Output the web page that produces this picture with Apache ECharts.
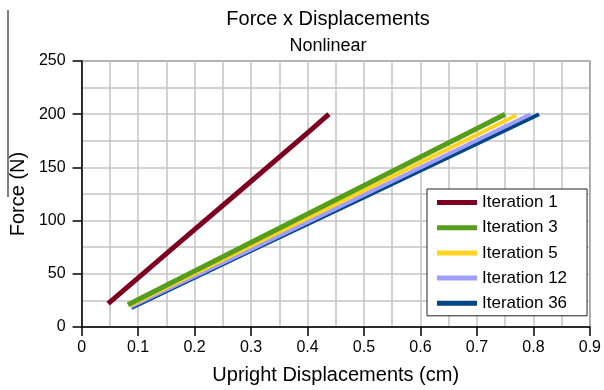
<!DOCTYPE html>
<html>
<head>
<meta charset="utf-8">
<script src="https://cdn.jsdelivr.net/npm/echarts@6/dist/echarts.min.js"></script>
<style>
html,body{margin:0;padding:0;background:#fff;}
#chart{width:604px;height:390px;}
</style>
</head>
<body>
<div id="chart"></div>
<script>
var titleText = 'Force x Displacements';
var subtitleText = 'Nonlinear';
var xAxisName = 'Upright Displacements (cm)';
var yAxisName = 'Force (N)';
var seriesNames = ['Iteration 1', 'Iteration 3', 'Iteration 5', 'Iteration 12', 'Iteration 36'];
var seriesColors = ['#7e0021', '#579d1c', '#ffd320', '#9e9eff', '#004586'];
// [displacement (cm), force (N)]
var iter1 = [[0.047, 22], [0.1765, 81], [0.265, 121], [0.397, 181], [0.438, 200]];
var iter3 = [[0.082, 21], [0.306, 81], [0.459, 122], [0.750, 200]];
var iter5 = [[0.085, 20], [0.310, 79], [0.472, 121], [0.770, 199]];
var iter12 = [[0.087, 19], [0.300, 73], [0.480, 119], [0.795, 200]];
var iter36 = [[0.088, 18], [0.294, 70], [0.485, 118], [0.810, 200]];
var seriesData = [iter1, iter3, iter5, iter12, iter36];
var lineWidths = [5, 5, 4, 4, 4];
var drawOrder = [4, 3, 2, 1, 0];

var font = '"Liberation Sans", Arial, sans-serif';
var chart = echarts.init(document.getElementById('chart'), null, {renderer: 'canvas'});

var series = drawOrder.map(function (i, k) {
  return {
    name: seriesNames[i],
    type: 'line',
    data: seriesData[i],
    showSymbol: false,
    symbol: 'none',
    z: 2 + k,
    animation: false,
    color: seriesColors[i],
    lineStyle: {color: seriesColors[i], width: lineWidths[i]},
    itemStyle: {color: seriesColors[i]}
  };
});

var gridColor = '#c4c4c4';
chart.setOption({
  animation: false,
  backgroundColor: '#fff',
  textStyle: {fontFamily: font},
  title: [
    {text: titleText, left: 323, top: 4, textAlign: 'center',
     textStyle: {fontFamily: font, fontSize: 20, fontWeight: 'normal', color: '#000'}},
    {text: subtitleText, left: 323, top: 32, textAlign: 'center',
     textStyle: {fontFamily: font, fontSize: 18, fontWeight: 'normal', color: '#000'}}
  ],
  grid: {left: 80, right: 14, top: 61, bottom: 62, show: true, borderColor: '#000', borderWidth: 1.2, containLabel: false},
  legend: {
    orient: 'vertical',
    left: 427, top: 189,
    data: seriesNames,
    icon: 'rect',
    itemWidth: 40, itemHeight: 5,
    itemGap: 8.2,
    padding: [5, 20, 4, 10],
    borderColor: '#222', borderWidth: 1,
    backgroundColor: '#fff',
    textStyle: {fontFamily: font, fontSize: 17, color: '#000', lineHeight: 16}
  },
  xAxis: {
    type: 'value', min: 0, max: 0.9, interval: 0.1,
    name: xAxisName, nameLocation: 'middle', nameGap: 38,
    nameTextStyle: {fontFamily: font, fontSize: 20, color: '#000'},
    axisLine: {show: true, onZero: false, lineStyle: {color: '#000', width: 1.5}},
    axisTick: {show: true, length: 9, lineStyle: {color: '#000', width: 1.5}},
    axisLabel: {fontFamily: font, fontSize: 16, color: '#000', margin: 13,
      formatter: function (v) { return v === 0 ? '0' : String(Math.round(v * 10) / 10); }},
    splitLine: {show: true, lineStyle: {color: gridColor, width: 1.5}},
    minorTick: {show: false, splitNumber: 2},
    minorSplitLine: {show: true, lineStyle: {color: gridColor, width: 1.5}}
  },
  yAxis: {
    type: 'value', min: 0, max: 250, interval: 50,
    name: yAxisName, nameLocation: 'middle', nameGap: 50,
    nameTextStyle: {fontFamily: font, fontSize: 20, color: '#000'},
    axisLine: {show: true, onZero: false, lineStyle: {color: '#000', width: 1.5}},
    axisTick: {show: true, length: 9, lineStyle: {color: '#000', width: 1.5}},
    axisLabel: {fontFamily: font, fontSize: 16, color: '#000', margin: 16},
    splitLine: {show: true, lineStyle: {color: gridColor, width: 1.5}},
    minorTick: {show: false, splitNumber: 2},
    minorSplitLine: {show: true, lineStyle: {color: gridColor, width: 1.5}}
  },
  graphic: [
    {type: 'line', shape: {x1: 8, y1: 10, x2: 8, y2: 197}, style: {stroke: '#000', lineWidth: 1}, silent: true}
  ],
  series: series
});
</script>
</body>
</html>
